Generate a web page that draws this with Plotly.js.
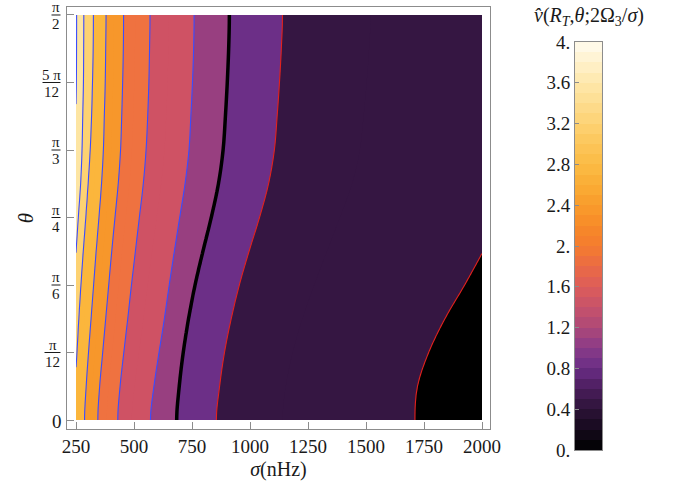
<!DOCTYPE html>
<html>
<head>
<meta charset="utf-8">
<script src="https://cdn.plot.ly/plotly-3.0.1.min.js"></script>
<style>html,body{margin:0;padding:0;background:#fff;}</style>
</head>
<body>
<div id="chart" style="width:688px;height:481px;"></div>
<script>
// ---------------- DATA ----------------
// theta rows: k * pi / 24, k = 0..12
const thetaRowIndex = [0, 1, 2, 3, 4, 5, 6, 7, 8, 9, 10, 11, 12];

// sigma (nHz) at which each contour level crosses each theta row
// (values below 250 or above 2000 are estimates just outside the plotted window)
const level_0p4 = 0.4;
const sigma_0p4 = [1711, 1722, 1770, 1840, 1925, 2005, 2080, 2160, 2210, 2235, 2255, 2270, 2280];
const level_0p8 = 0.8;
const sigma_0p8 = [855, 869, 890, 919, 954, 996, 1041, 1080, 1105, 1117, 1127, 1135, 1140];
const level_1p0 = 1.0;
const sigma_1p0 = [684, 695, 712, 735, 763, 797, 833, 864, 884, 894, 902, 908, 911];
const level_1p2 = 1.2;
const sigma_1p2 = [571, 586, 608, 631, 652, 674, 697, 720, 737, 745, 752, 757, 759];
const level_1p6 = 1.6;
const sigma_1p6 = [430, 440, 456, 473, 489, 506, 523, 540, 552, 559, 564, 567, 569];
const level_2p0 = 2.0;
const sigma_2p0 = [344, 352, 365, 378, 391, 404, 418, 432, 442, 447, 451, 454, 455];
const level_2p4 = 2.4;
const sigma_2p4 = [287, 294, 304, 315, 326, 337, 349, 360, 368, 372, 376, 378, 379.5];
const level_2p8 = 2.8;
const sigma_2p8 = [240, 245, 254, 262, 271, 281, 292, 302, 311, 317, 321, 324, 325];
const level_3p2 = 3.2;
const sigma_3p2 = [214, 217, 222.5, 230, 240.5, 250.5, 260, 270, 276, 279, 282, 283, 283.5];
const level_3p6 = 3.6;
const sigma_3p6 = [190, 193, 198, 204, 212, 221, 231, 240, 246, 249, 251.5, 252.3, 252.6];

// x ticks
const xTickVals = [250, 500, 750, 1000, 1250, 1500, 1750, 2000];
const xTickText = ['250', '500', '750', '1000', '1250', '1500', '1750', '2000'];
// y ticks (fractions of pi)
const yTickVals = [0, Math.PI / 12, Math.PI / 6, Math.PI / 4, Math.PI / 3, 5 * Math.PI / 12, Math.PI / 2];
const yTickNum = ['0', 'π', 'π', 'π', 'π', '5 π', 'π'];
const yTickDen = ['', '12', '6', '4', '3', '12', '2'];

// colour bar
const cbTickVals = [0, 0.4, 0.8, 1.2, 1.6, 2.0, 2.4, 2.8, 3.2, 3.6, 4.0];
const cbTickText = ['0.', '0.4', '0.8', '1.2', '1.6', '2.', '2.4', '2.8', '3.2', '3.6', '4.'];
const cbAnchorVals = [0, 0.2, 0.4, 0.6, 0.8, 1.0, 1.2, 1.4, 1.6, 1.8, 2.0, 2.2, 2.4, 2.6, 2.8, 3.0, 3.2, 3.4, 3.6, 3.8, 4.0];
const cbAnchorColors = ['#000000', '#150a1c', '#2d1338', '#4a1d5c', '#6a2d85', '#8a3b88', '#ad4878', '#c7526a',
  '#dc5c5a', '#ea6a45', '#f47c2e', '#f78a28', '#f99c2c', '#faad35', '#fbbb45', '#fcc65a', '#fdd274', '#fddd90',
  '#fee7ab', '#fff1cc', '#fffbf0'];

// filled band colours between successive contour boundaries
const bandBounds = [0, 0.4, 0.8, 1.0, 1.2, 1.6, 2.0, 2.4, 2.8, 3.2, 3.6, 4.0];
const bandColors = ['#000000', '#351642', '#6c2f87', '#983f80', '#cf5264', '#ef7240', '#f7972b', '#fbb63c',
  '#fdd272', '#fde5a3', '#fdf0cf'];

// ---------------- build the grid the contour trace needs ----------------
const levels = [level_0p4, level_0p8, level_1p0, level_1p2, level_1p6, level_2p0, level_2p4, level_2p8, level_3p2, level_3p6];
const lines = [sigma_0p4, sigma_0p8, sigma_1p0, sigma_1p2, sigma_1p6, sigma_2p0, sigma_2p4, sigma_2p8, sigma_3p2, sigma_3p6];

// smooth (Hermite) rendering of each read contour between the read theta rows
const SUB = 4;
function smoothRows(arr) {
  const n = arr.length, out = [];
  for (let k = 0; k < n - 1; k++) {
    const p1 = arr[k], p2 = arr[k + 1];
    const m1 = k === 0 ? 0 : (arr[k + 1] - arr[k - 1]) / 2;
    const m2 = k + 1 === n - 1 ? 0 : (arr[k + 2] - arr[k]) / 2;
    for (let j = 0; j < SUB; j++) {
      const t = j / SUB, t2 = t * t, t3 = t2 * t;
      out.push((2 * t3 - 3 * t2 + 1) * p1 + (t3 - 2 * t2 + t) * m1 + (-2 * t3 + 3 * t2) * p2 + (t3 - t2) * m2);
    }
  }
  out.push(arr[n - 1]);
  return out;
}
const denseLines = lines.map(smoothRows);
const thetaDense = [];
for (let i = 0; i < (thetaRowIndex.length - 1) * SUB + 1; i++) thetaDense.push((i / SUB) * Math.PI / 24);

const sigmaGrid = [];
for (let s = 250; s <= 2000; s += 5) sigmaGrid.push(s);

function lin(p, q, s) { return p[1] + (q[1] - p[1]) * (s - p[0]) / (q[0] - p[0]); }
const z = thetaDense.map((_, r) => {
  const pts = levels.map((L, i) => [Math.log(denseLines[i][r]), Math.log(L)]);
  pts.sort((a, b) => a[0] - b[0]);
  const n = pts.length;
  return sigmaGrid.map(sv => {
    const s = Math.log(sv);
    let v;
    if (s <= pts[0][0]) v = lin(pts[0], pts[1], s);
    else if (s >= pts[n - 1][0]) v = lin(pts[n - 2], pts[n - 1], s);
    else {
      for (let i = 0; i < n - 1; i++) {
        if (s >= pts[i][0] && s <= pts[i + 1][0]) { v = lin(pts[i], pts[i + 1], s); break; }
      }
    }
    return Math.exp(v);
  });
});

// fill colour scale: 20 bands of 0.2, coloured at their mid value
const fillScale = [];
for (let k = 0; k < 20; k++) {
  const mid = 0.2 * k + 0.1;
  let j = 0;
  while (j < bandBounds.length - 2 && mid >= bandBounds[j + 1]) j++;
  fillScale.push([k / 19, bandColors[j]]);
}

const cbScale = cbAnchorVals.map((v, i) => [v / 4, cbAnchorColors[i]]);
const cbY = [];
for (let i = 0; i < 40; i++) cbY.push(0.05 + 0.1 * i);

const W = 688, H = 481;
const FONT = "'Liberation Serif', 'Times New Roman', 'DejaVu Serif', serif";
const TXT = '#1a1a1a';
const FRAME = '#8c8c8c';

const traces = [
  {
    type: 'contour', x: sigmaGrid, y: thetaDense, z: z,
    autocontour: false,
    contours: {start: 0.2, end: 3.8, size: 0.2, coloring: 'fill', showlines: false},
    line: {width: 0, smoothing: 1},
    colorscale: fillScale, showscale: false, hoverinfo: 'skip'
  },
  {
    type: 'contour', x: sigmaGrid, y: thetaDense, z: z,
    autocontour: false,
    contours: {start: 1.2, end: 3.6, size: 0.4, coloring: 'none', showlines: true},
    line: {color: '#3a4cff', width: 1.1, smoothing: 1.3},
    showscale: false, hoverinfo: 'skip'
  },
  {
    type: 'contour', x: sigmaGrid, y: thetaDense, z: z,
    autocontour: false,
    contours: {start: 0.4, end: 0.8, size: 0.4, coloring: 'none', showlines: true},
    line: {color: '#e3221c', width: 1.1, smoothing: 1.3},
    showscale: false, hoverinfo: 'skip'
  },
  {
    type: 'contour', x: sigmaGrid, y: thetaDense, z: z,
    autocontour: false,
    contours: {start: 1.0, end: 1.0001, size: 1, coloring: 'none', showlines: true},
    line: {color: '#000000', width: 3.5, smoothing: 1.3},
    showscale: false, hoverinfo: 'skip'
  },
  {
    type: 'heatmap', x: [0], y: cbY, z: cbY.map(v => [v]),
    xaxis: 'x2', yaxis: 'y2', zmin: 0, zmax: 4,
    colorscale: cbScale, showscale: false, hoverinfo: 'skip'
  }
];

function px(x) { return x / W; }
function py(y) { return 1 - y / H; }

const annotations = [];
const shapes = [];
const fracFont = {family: FONT, size: 15, color: TXT};
const barWidths = [0, 16, 9, 9, 9, 18, 9];
for (let i = 1; i < yTickVals.length; i++) {
  const right = 60.5;
  const cx = right - barWidths[i] / 2;
  annotations.push({xref: 'paper', yref: 'y', x: px(cx), y: yTickVals[i], text: yTickNum[i], showarrow: false,
    xanchor: 'center', yanchor: 'middle', yshift: 8, font: fracFont});
  annotations.push({xref: 'paper', yref: 'y', x: px(cx), y: yTickVals[i], text: yTickDen[i], showarrow: false,
    xanchor: 'center', yanchor: 'middle', yshift: -9, font: fracFont});
  shapes.push({type: 'line', xref: 'paper', yref: 'y', x0: px(right - barWidths[i]), x1: px(right),
    y0: yTickVals[i], y1: yTickVals[i], line: {color: TXT, width: 1}});
}
annotations.push({xref: 'paper', yref: 'y', x: px(64), y: yTickVals[0], text: yTickNum[0], showarrow: false,
  xanchor: 'right', yanchor: 'middle', yshift: -1, font: {family: FONT, size: 19, color: TXT}});
annotations.push({xref: 'paper', yref: 'paper', x: px(589), y: py(16), showarrow: false, xanchor: 'center', yanchor: 'middle',
  text: '<i>v\u0302</i>(<i>R</i><sub><i>T</i></sub>,<i>θ</i>;2Ω<sub>3</sub>/<i>σ</i>)',
  font: {family: FONT, size: 20, color: TXT}});

const layout = {
  width: W, height: H,
  margin: {l: 0, r: 0, t: 0, b: 0},
  paper_bgcolor: '#ffffff', plot_bgcolor: '#ffffff',
  showlegend: false,
  xaxis: {
    domain: [px(67), px(490)], range: [211.2, 2034.5],
    tickvals: xTickVals, ticktext: xTickText, ticks: 'inside', ticklen: 7, tickcolor: FRAME, tickwidth: 1,
    showline: true, linecolor: FRAME, linewidth: 1, mirror: true, showgrid: false, zeroline: false,
    tickfont: {family: FONT, size: 19, color: TXT},
    title: {text: '<i>σ</i>(nHz)', font: {family: FONT, size: 20, color: TXT}, standoff: 6}
  },
  yaxis: {
    domain: [py(429), py(7)], range: [-0.0349, 1.6018],
    tickvals: yTickVals, ticks: 'inside', ticklen: 7, tickcolor: FRAME, tickwidth: 1, showticklabels: false,
    showline: true, linecolor: FRAME, linewidth: 1, mirror: true, showgrid: false, zeroline: false,
    title: {text: '<i>θ</i>', font: {family: FONT, size: 21, color: TXT}, standoff: 26}
  },
  xaxis2: {
    domain: [px(575), px(602)], range: [-0.5, 0.5], anchor: 'y2',
    showticklabels: false, ticks: '', showline: true, linecolor: FRAME, linewidth: 1, mirror: true,
    showgrid: false, zeroline: false, fixedrange: true
  },
  yaxis2: {
    domain: [py(450), py(42)], range: [0, 4], anchor: 'x2', side: 'left',
    tickvals: cbTickVals, ticktext: cbTickText, ticks: 'inside', ticklen: 4, tickcolor: FRAME,
    showline: true, linecolor: FRAME, linewidth: 1, mirror: true, showgrid: false, zeroline: false,
    tickfont: {family: FONT, size: 19, color: TXT}, fixedrange: true
  },
  annotations: annotations,
  shapes: shapes
};

Plotly.newPlot('chart', traces, layout, {displayModeBar: false, staticPlot: true});
</script>
</body>
</html>
